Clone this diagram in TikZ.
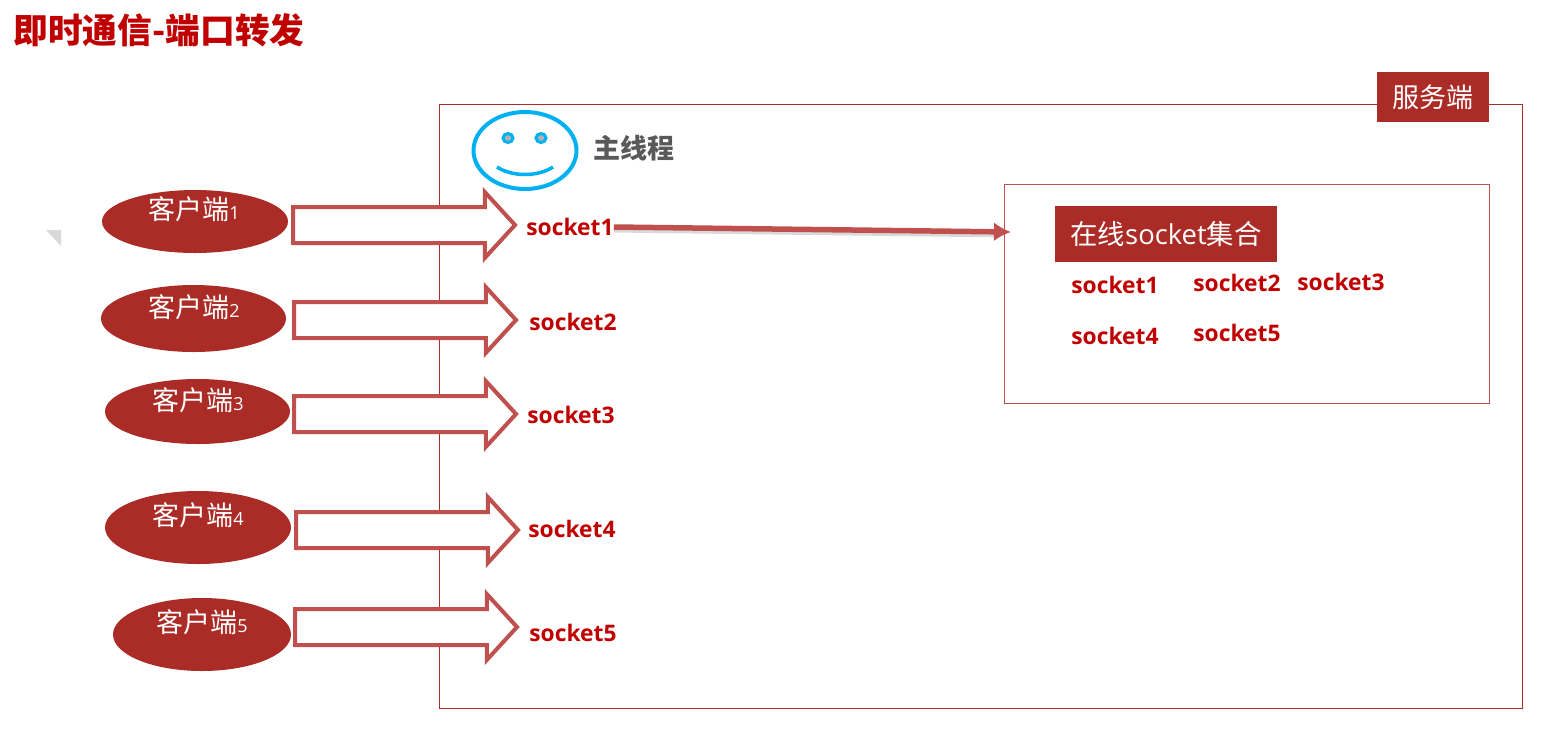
\documentclass[tikz,border=0pt]{standalone}
\usepackage{fontspec}
\setmainfont{Open Sans}
\newfontfamily\cjk{Noto Sans CJK SC}
\usetikzlibrary{
    arrows.meta,
    shapes.geometric,
    shapes.arrows
}
\definecolor{boxred}{HTML}{AB2B26}
\definecolor{arrowred}{HTML}{C0504D}
\definecolor{textred}{HTML}{C00000}
\definecolor{faceblue}{HTML}{00B0F0}
\tikzset{
    client/.style={ellipse,fill=boxred,inner sep=0pt,outer sep=0pt},
    clientlabel/.style={text=white,inner sep=0pt,font=\fontsize{27}{29}\selectfont\cjk},
    blockarrow/.style={single arrow,anchor=tail,draw=arrowred,fill=white,line width=4pt,
        minimum height=222pt,single arrow head extend=15pt,
        single arrow tip angle=95,inner xsep=0pt,inner ysep=16pt,outer sep=0pt},
    sock/.style={text=textred,inner sep=0pt,font=\fontsize{22.8}{24}\selectfont\bfseries},
    tagbox/.style={fill=boxred,text=white,inner sep=0pt,font=\fontsize{27.4}{29}\selectfont},
    eye/.style={ellipse,draw=faceblue,fill=black!30,line width=3pt,minimum width=10pt,minimum height=9pt,inner sep=0pt}
}
\newcommand{\clientname}[1]{客户端{\fontsize{18}{20}\selectfont\rmfamily #1}}

\begin{document}
\begin{tikzpicture}[x=1pt,y=-1pt]

\useasboundingbox (0,0) rectangle (1562,729);

% Title
\node[text=textred,inner sep=0pt,font=\fontsize{34.7}{36}\selectfont\cjk\bfseries] (title) at (159,30) {即时通信-端口转发};

% Small grey corner mark
\fill[black!15] (46,230) -- (61,230) -- (61,246) -- cycle;

% Server box
\draw[boxred,line width=1pt] (439,104.5) rectangle (1522.5,708);
\node[tagbox,minimum width=112pt,minimum height=50pt,font=\fontsize{27}{29}\selectfont] (server) at (1433,97) {\cjk 服务端};

% Main thread face
\node[ellipse,draw=faceblue,line width=4pt,minimum width=103pt,minimum height=77pt,inner sep=0pt] (face) at (525,150.5) {};
\node[eye] (eyeL) at (508,138) {};
\node[eye] (eyeR) at (541,138) {};
\draw[faceblue,line width=3.5pt] (497,167) .. controls (512,177) and (538,177) .. (553,167);
\node[text=black!65,inner sep=0pt,font=\fontsize{27}{29}\selectfont\cjk\bfseries] (mainthread) at (633.5,148) {主线程};

% Online socket set
\draw[arrowred,line width=1pt] (1004.5,184.5) rectangle (1489.5,403.5);
\node[tagbox,minimum width=222pt,minimum height=56pt] (online) at (1166,234) {{\cjk 在线}socket{\cjk 集合}};
\node[sock] (set1) at (1115,285) {socket1};
\node[sock] (set2) at (1237,283) {socket2};
\node[sock] (set3) at (1341,282) {socket3};
\node[sock] (set4) at (1115,336) {socket4};
\node[sock] (set5) at (1237,333) {socket5};

% Clients
\node[client,minimum width=186pt,minimum height=63pt] (c1) at (195,221.5) {};
\node[client,minimum width=185pt,minimum height=67pt] (c2) at (193.5,318.5) {};
\node[client,minimum width=185pt,minimum height=65pt] (c3) at (197.5,411.5) {};
\node[client,minimum width=186pt,minimum height=73pt] (c4) at (198,527.5) {};
\node[client,minimum width=178pt,minimum height=73pt] (c5) at (202,634.5) {};
\node[clientlabel] (c1text) at (194,209) {\clientname{1}};
\node[clientlabel] (c2text) at (194,307) {\clientname{2}};
\node[clientlabel] (c3text) at (198,400) {\clientname{3}};
\node[clientlabel] (c4text) at (198,515) {\clientname{4}};
\node[clientlabel] (c5text) at (202,622) {\clientname{5}};

% Block arrows
\node[blockarrow] (a1) at (293,225) {};
\node[blockarrow] (a2) at (294,320) {};
\node[blockarrow] (a3) at (294,414) {};
\node[blockarrow] (a4) at (296,530) {};
\node[blockarrow] (a5) at (295,627) {};

% Sockets on the server
\node[sock] (s1) at (570,227) {socket1};
\node[sock] (s2) at (573,322) {socket2};
\node[sock] (s3) at (571,415) {socket3};
\node[sock] (s4) at (572,529) {socket4};
\node[sock] (s5) at (573,633) {socket5};

% Link to the set
\coordinate (setin) at (1011,232);
\draw[black!25,line width=5pt,opacity=.6,shorten >=14pt,transform canvas={yshift=-3pt}] (s1.east) -- (setin);
\draw[arrowred,line width=5.5pt,-{Latex[length=17pt,width=19pt]}] (s1.east) -- (setin);

\end{tikzpicture}
\end{document}
